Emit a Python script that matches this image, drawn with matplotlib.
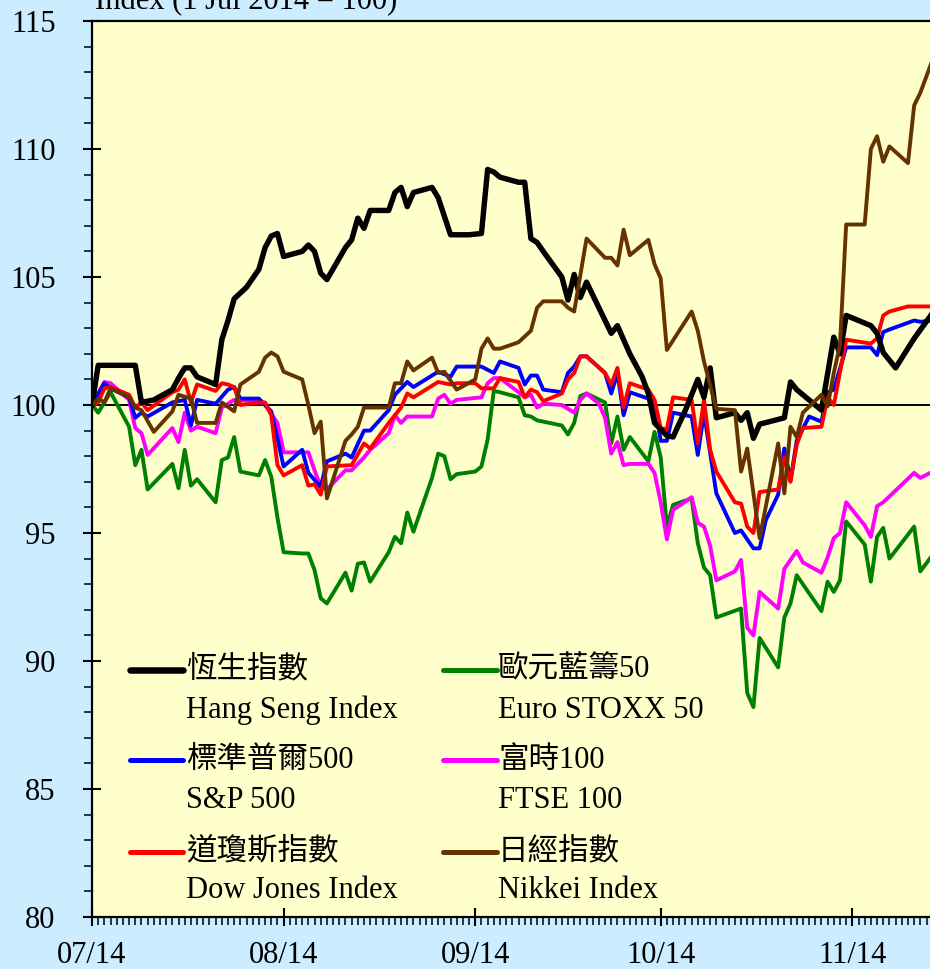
import numpy as np
import matplotlib
matplotlib.use("Agg")
import matplotlib.pyplot as plt
import matplotlib.dates as mdates
from matplotlib.ticker import MultipleLocator

plt.rcParams['font.family'] = ['Liberation Serif', 'Noto Sans CJK TC']

# index values, 1 Jul 2014 = 100 (dates are MM-DD in 2014)
hsi_dates = ["07-01", "07-02", "07-04", "07-08", "07-09", "07-11", "07-14", "07-15", "07-16", "07-17",
             "07-18", "07-21", "07-22", "07-23", "07-24", "07-26", "07-28", "07-29", "07-30", "07-31",
             "08-01", "08-04", "08-05", "08-06", "08-07", "08-08", "08-11", "08-12", "08-13", "08-14",
             "08-15", "08-18", "08-19", "08-20", "08-21", "08-22", "08-25", "08-26", "08-28", "08-31",
             "09-02", "09-03", "09-04", "09-05", "09-08", "09-09", "09-10", "09-11", "09-12", "09-15",
             "09-16", "09-17", "09-18", "09-19", "09-23", "09-24", "09-26", "09-28", "09-29", "09-30",
             "10-02", "10-03", "10-05", "10-07", "10-08", "10-09", "10-10", "10-13", "10-14", "10-15",
             "10-16", "10-17", "10-21", "10-22", "10-23", "10-27", "10-29", "10-30", "10-31",
             "11-04", "11-05", "11-06", "11-08", "11-11", "11-14"]
hsi_vals = [100.0, 101.55, 101.55, 101.55, 100.1, 100.2, 100.6, 101.05, 101.45, 101.45,
            101.1, 100.8, 102.55, 103.3, 104.15, 104.6, 105.3, 106.15, 106.6, 106.7,
            105.8, 106.0, 106.25, 106.0, 105.15, 104.9, 106.15, 106.45, 107.3, 106.9,
            107.6, 107.6, 108.3, 108.5, 107.75, 108.3, 108.5, 108.1, 106.65, 106.65,
            106.7, 109.2, 109.1, 108.9, 108.7, 108.7, 106.5, 106.35, 106.0, 105.0,
            104.1, 105.1, 104.2, 104.8, 102.8, 103.1, 102.0, 101.1, 100.45, 99.3,
            98.8, 98.75, 99.8, 101.0, 100.3, 101.45, 99.5, 99.7, 99.4, 99.7,
            98.7, 99.25, 99.5, 100.9, 100.6, 99.8, 102.65, 102.0, 103.5,
            103.1, 102.8, 102.05, 101.45, 102.6, 103.6]

stoxx_dates = ["07-01", "07-02", "07-04", "07-07", "07-08", "07-09", "07-10", "07-14", "07-15", "07-16",
               "07-17", "07-18", "07-21", "07-22", "07-23", "07-24", "07-25", "07-28", "07-29", "07-30",
               "07-31",
               "08-01", "08-04", "08-05", "08-06", "08-07", "08-08", "08-11", "08-12", "08-13", "08-14",
               "08-15", "08-18", "08-19", "08-20", "08-21", "08-22", "08-25", "08-26", "08-27", "08-28",
               "08-29",
               "09-01", "09-02", "09-03", "09-04", "09-05", "09-08", "09-09", "09-10", "09-11", "09-15",
               "09-16", "09-17", "09-18", "09-19", "09-22", "09-23", "09-24", "09-25", "09-26", "09-29",
               "09-30",
               "10-01", "10-02", "10-03", "10-06", "10-07", "10-08", "10-09", "10-10", "10-14", "10-15",
               "10-16", "10-17", "10-20", "10-21", "10-22", "10-23", "10-27", "10-28", "10-29", "10-30",
               "10-31",
               "11-03", "11-04", "11-05", "11-06", "11-07", "11-11", "11-12", "11-14"]
stoxx_vals = [100.0, 99.7, 100.5, 99.15, 97.65, 98.25, 96.7, 97.7, 96.75, 98.25,
              96.85, 97.1, 96.2, 97.85, 97.95, 98.75, 97.4, 97.25, 97.85, 97.2,
              95.6,
              94.25, 94.2, 94.2, 93.55, 92.45, 92.25, 93.45, 92.75, 93.8, 93.85,
              93.1, 94.25, 94.85, 94.6, 95.8, 95.05, 97.15, 98.1, 98.0, 97.1,
              97.3,
              97.4, 97.6, 98.65, 100.55, 100.5, 100.3, 99.6, 99.55, 99.4, 99.2,
              98.85, 99.3, 100.35, 100.45, 100.1, 98.5, 99.55, 98.25, 98.75, 97.8,
              98.95,
              97.95, 95.25, 96.1, 96.35, 94.6, 93.65, 93.35, 91.7, 92.05, 88.75,
              88.2, 90.9, 89.75, 91.7, 92.25, 93.35, 91.95, 93.1, 92.7, 93.15,
              95.45,
              94.55, 93.1, 94.85, 95.2, 94.0, 95.25, 93.5, 94.15]

sp_dates = ["07-01", "07-03", "07-04", "07-07", "07-08", "07-09", "07-10", "07-14", "07-16", "07-17",
            "07-18", "07-21", "07-23", "07-24", "07-25", "07-28", "07-30",
            "08-01", "08-04", "08-05", "08-07", "08-08", "08-11", "08-12", "08-14", "08-15", "08-18",
            "08-19", "08-21", "08-22", "08-26", "08-28", "08-29",
            "09-02", "09-04", "09-05", "09-08", "09-09", "09-10", "09-11", "09-12", "09-15", "09-16",
            "09-17", "09-18", "09-19", "09-22", "09-23", "09-24", "09-25", "09-26", "09-29", "09-30",
            "10-01", "10-02", "10-03", "10-06", "10-07", "10-08", "10-10", "10-13", "10-14", "10-16",
            "10-17", "10-18", "10-20", "10-21", "10-22", "10-23", "10-25", "10-27", "10-28", "10-29",
            "10-31",
            "11-04", "11-05", "11-06", "11-07", "11-11", "11-12", "11-14"]
sp_vals = [100.0, 100.85, 100.65, 100.3, 99.5, 99.7, 99.55, 100.1, 100.2, 99.2,
           100.2, 100.05, 100.6, 100.7, 100.25, 100.25, 99.75,
           97.6, 98.25, 97.35, 96.8, 97.8, 98.1, 97.95, 99.0, 99.0, 99.8,
           100.4, 100.9, 100.7, 101.3, 101.1, 101.5,
           101.5, 101.25, 101.7, 101.45, 100.8, 101.15, 101.15, 100.6, 100.5, 101.25,
           101.5, 101.9, 101.9, 101.25, 100.45, 101.25, 99.6, 100.5, 100.25, 100.1,
           98.6, 98.6, 99.7, 99.55, 98.05, 99.7, 96.55, 95.0, 95.1, 94.4,
           94.4, 95.5, 96.5, 98.3, 97.05, 98.6, 99.55, 99.35, 100.5, 100.6,
           102.25,
           102.25, 101.95, 102.85, 102.95, 103.3, 103.25, 103.3]

ftse_dates = ["07-01", "07-03", "07-04", "07-07", "07-08", "07-09", "07-10", "07-14", "07-15", "07-16",
              "07-17", "07-18", "07-21", "07-22", "07-24", "07-28", "07-29", "07-31",
              "08-01", "08-04", "08-05", "08-06", "08-07", "08-08", "08-11", "08-12", "08-14", "08-15",
              "08-18", "08-19", "08-20", "08-21", "08-25", "08-26", "08-27", "08-28", "08-29",
              "09-02", "09-03", "09-04", "09-05", "09-08", "09-09", "09-10", "09-11", "09-12", "09-15",
              "09-17", "09-18", "09-19", "09-21", "09-22", "09-23", "09-24", "09-25", "09-26", "09-29",
              "09-30",
              "10-01", "10-02", "10-03", "10-06", "10-07", "10-08", "10-09", "10-10", "10-13", "10-14",
              "10-15", "10-16", "10-17", "10-20", "10-21", "10-22", "10-23", "10-24", "10-27", "10-28",
              "10-29", "10-30", "10-31",
              "11-03", "11-04", "11-05", "11-06", "11-11", "11-12", "11-14"]
ftse_vals = [100.0, 100.9, 100.85, 100.2, 99.1, 98.9, 98.05, 99.1, 98.55, 99.7,
             99.0, 99.15, 98.9, 99.9, 100.2, 100.15, 100.0, 99.3,
             98.15, 98.15, 98.15, 97.45, 96.8, 96.7, 97.45, 97.45, 97.95, 98.25,
             98.9, 99.6, 99.3, 99.55, 99.55, 100.25, 100.4, 100.05, 100.2,
             100.3, 100.85, 101.05, 101.05, 100.5, 100.3, 100.4, 99.9, 100.05, 100.0,
             99.7, 100.2, 100.45, 100.05, 99.5, 98.1, 98.55, 97.65, 97.7, 97.7,
             97.35,
             96.2, 94.75, 95.9, 96.4, 95.4, 95.25, 94.5, 93.15, 93.5, 93.95,
             91.3, 91.0, 92.7, 92.05, 93.6, 93.95, 94.3, 93.85, 93.45, 94.05,
             94.8, 95.0, 96.2,
             95.3, 94.85, 96.05, 96.2, 97.35, 97.15, 97.4]

dow_dates = ["07-01", "07-02", "07-03", "07-04", "07-07", "07-08", "07-09", "07-10", "07-14", "07-15",
             "07-16", "07-17", "07-18", "07-21", "07-22", "07-23", "07-24", "07-25", "07-28", "07-29",
             "07-30", "07-31",
             "08-01", "08-04", "08-05", "08-06", "08-07", "08-08", "08-12", "08-14", "08-15", "08-18",
             "08-20", "08-21", "08-22", "08-26", "08-28", "08-29",
             "09-01", "09-02", "09-04", "09-05", "09-08", "09-09", "09-10", "09-11", "09-12", "09-15",
             "09-16", "09-17", "09-18", "09-19", "09-22", "09-23", "09-24", "09-25", "09-26", "09-29",
             "09-30",
             "10-01", "10-02", "10-03", "10-06", "10-07", "10-08", "10-09", "10-10", "10-13", "10-14",
             "10-15", "10-16", "10-17", "10-20", "10-21", "10-22", "10-23", "10-24", "10-27", "10-28",
             "10-29", "10-31",
             "11-04", "11-05", "11-06", "11-07", "11-10", "11-14"]
dow_vals = [100.0, 100.1, 100.65, 100.7, 100.4, 99.9, 100.1, 99.8, 100.5, 100.6,
            101.0, 100.1, 100.8, 100.55, 100.85, 100.8, 100.7, 100.0, 100.1, 100.1,
            99.6, 97.65,
            97.25, 97.65, 96.85, 96.9, 96.5, 97.6, 97.65, 98.5, 98.3, 99.3,
            99.9, 100.45, 100.3, 100.9, 100.8, 100.85,
            100.85, 100.65, 100.65, 101.05, 100.9, 100.3, 100.6, 100.5, 100.15, 100.45,
            101.0, 101.25, 101.9, 101.9, 101.25, 100.8, 101.45, 99.9, 100.85, 100.6,
            100.2,
            99.1, 99.05, 100.3, 100.2, 98.5, 100.2, 98.25, 97.4, 96.2, 96.15,
            95.25, 95.0, 96.6, 96.7, 97.95, 97.0, 98.45, 99.1, 99.15, 100.3,
            100.0, 102.55,
            102.4, 102.6, 103.5, 103.65, 103.85, 103.85]

nikkei_dates = ["07-01", "07-02", "07-03", "07-04", "07-07", "07-08", "07-09", "07-11", "07-14", "07-15",
                "07-17", "07-18", "07-21", "07-22", "07-24", "07-25", "07-28", "07-29", "07-30", "07-31",
                "08-01", "08-04", "08-05", "08-06", "08-07", "08-08", "08-11", "08-12", "08-13", "08-14",
                "08-18", "08-19", "08-20", "08-21", "08-22", "08-25", "08-26", "08-27", "08-29",
                "09-01", "09-02", "09-03", "09-04", "09-05", "09-08", "09-10", "09-11", "09-12", "09-15",
                "09-16", "09-17", "09-19", "09-22", "09-23", "09-24", "09-25", "09-26", "09-29", "09-30",
                "10-01", "10-02", "10-06", "10-07", "10-08", "10-10", "10-13", "10-14", "10-15", "10-17",
                "10-20", "10-21", "10-22", "10-23", "10-24", "10-27", "10-28", "10-29", "10-30", "10-31",
                "11-03", "11-04", "11-05", "11-06", "11-07", "11-10", "11-11", "11-12", "11-14"]
nikkei_vals = [100.0, 100.25, 100.1, 100.65, 100.3, 99.9, 99.8, 98.95, 99.75, 100.4,
               100.25, 99.3, 99.3, 100.1, 99.75, 100.8, 101.3, 101.85, 102.05, 101.9,
               101.3, 101.0, 100.0, 98.9, 99.35, 96.35, 98.6, 98.85, 99.15, 99.9,
               99.9, 100.85, 100.85, 101.7, 101.35, 101.85, 101.25, 101.3, 100.6,
               101.0, 102.2, 102.6, 102.2, 102.2, 102.45, 102.9, 103.8, 104.05, 104.05,
               103.8, 103.65, 106.5, 105.75, 105.75, 105.45, 106.85, 105.85, 106.45, 105.5,
               104.95, 102.15, 103.65, 102.9, 101.7, 99.85, 99.8, 97.4, 98.3, 94.8,
               98.5, 96.55, 99.15, 98.75, 99.7, 100.4, 99.95, 101.25, 102.35, 107.05,
               107.05, 110.0, 110.5, 109.5, 110.1, 109.45, 111.7, 112.2, 113.5]

names_cn = ["恆生指數", "歐元藍籌50", "標準普爾500", "富時100", "道瓊斯指數", "日經指數"]
names_en = ["Hang Seng Index", "Euro STOXX 50", "S&P 500", "FTSE 100", "Dow Jones Index", "Nikkei Index"]


def to_dates(md):
    return np.array(["2014-" + s for s in md], dtype="datetime64[D]")


W, H = 930, 969
fig = plt.figure(figsize=(W / 100, H / 100), dpi=100, facecolor="#CCECFF")
ax_l, ax_r, ax_t, ax_b = 92, 932.7, 21, 917
ax = fig.add_axes([ax_l / W, (H - ax_b) / H, (ax_r - ax_l) / W, (ax_b - ax_t) / H])
ax.set_facecolor("#FFFFCC")

ax.axhline(100, color="black", lw=1.4, zorder=1)

series = [
    (stoxx_dates, stoxx_vals, "#008000", 2.8, names_cn[1], names_en[1]),
    (ftse_dates, ftse_vals, "#FF00FF", 2.8, names_cn[3], names_en[3]),
    (sp_dates, sp_vals, "#0000FF", 2.8, names_cn[2], names_en[2]),
    (dow_dates, dow_vals, "#FF0000", 2.8, names_cn[4], names_en[4]),
    (hsi_dates, hsi_vals, "#000000", 3.9, names_cn[0], names_en[0]),
    (nikkei_dates, nikkei_vals, "#663300", 2.8, names_cn[5], names_en[5]),
]
lines = {}
for d, v, c, lw, cn, en in series:
    ax.plot(to_dates(d), v, color=c, lw=lw, zorder=2)
    lines[cn] = (c, lw, en)

ax.set_xlim(np.datetime64("2014-07-01"), np.datetime64("2014-11-14"))
ax.set_ylim(80, 115)
ax.xaxis.set_major_locator(mdates.MonthLocator())
ax.xaxis.set_minor_locator(mdates.DayLocator())
ax.xaxis.set_major_formatter(mdates.DateFormatter("%m/%y"))
ax.yaxis.set_major_locator(MultipleLocator(5))
ax.yaxis.set_minor_locator(MultipleLocator(1))

ax.tick_params(which="major", direction="inout", length=12.5, width=1.5, labelsize=22, colors="black")
ax.tick_params(which="minor", direction="out", length=6, width=1.1)
ax.tick_params(axis="y", which="major", pad=20)
ax.tick_params(axis="x", which="major", pad=11)
for s in ["left", "bottom", "top"]:
    ax.spines[s].set_linewidth(1.6)
ax.spines["right"].set_visible(False)

fig.text(95 / W, 1 - 9 / H, "Index (1 Jul 2014 = 100)", fontsize=22, va="baseline", ha="left")


# hand-made legend: line next to the Chinese name, English name underneath
def axfrac(px, py):
    return (px - ax_l) / (ax_r - ax_l), (ax_b - py) / (ax_b - ax_t)


legend_cols = [(130, 183, 186), (443, 497, 498)]
legend_rows = [(670, 710), (760, 800), (852, 890)]
legend_order = [[names_cn[0], names_cn[2], names_cn[4]], [names_cn[1], names_cn[3], names_cn[5]]]
for ci, (x0, x1, xt) in enumerate(legend_cols):
    for ri, (ycn, yen) in enumerate(legend_rows):
        cn = legend_order[ci][ri]
        c, lw, en = lines[cn]
        (ax0, ay), (ax1, _) = axfrac(x0, ycn), axfrac(x1, ycn)
        ax.plot([ax0, ax1], [ay, ay], color=c, lw=lw + 0.8, transform=ax.transAxes,
                solid_capstyle="round", zorder=3)
        tx, ty = axfrac(xt, ycn)
        ax.text(tx, ty, cn, transform=ax.transAxes, fontsize=22, va="center", ha="left")
        tx, ty = axfrac(xt, yen)
        ax.text(tx, ty, en, transform=ax.transAxes, fontsize=22, va="center", ha="left")

fig.savefig("out.png", dpi=100, facecolor=fig.get_facecolor())
